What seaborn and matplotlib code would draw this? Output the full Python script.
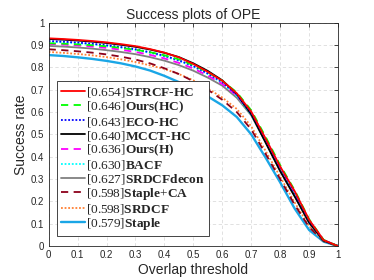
import numpy as np
import pandas as pd
import matplotlib
matplotlib.use("Agg")
import matplotlib.pyplot as plt
import seaborn as sns

# ------------------------------------------
# data
# ------------------------------------------
thresholds = [0.00, 0.05, 0.10, 0.15, 0.20, 0.25, 0.30, 0.35, 0.40, 0.45, 0.50,
              0.55, 0.60, 0.65, 0.70, 0.75, 0.80, 0.85, 0.90, 0.95, 1.00]

trackers = ["STRCF-HC", "Ours(HC)", "ECO-HC", "MCCT-HC", "Ours(H)",
            "BACF", "SRDCFdecon", "Staple+CA", "SRDCF", "Staple"]
auc = ["0.654", "0.646", "0.643", "0.640", "0.636",
       "0.630", "0.627", "0.598", "0.598", "0.579"]

strcf_hc = [0.930, 0.927, 0.923, 0.918, 0.912, 0.904, 0.895, 0.882, 0.866, 0.845, 0.815,
            0.780, 0.740, 0.684, 0.602, 0.480, 0.356, 0.246, 0.118, 0.027, 0.0]
ours_hc = [0.908, 0.906, 0.903, 0.899, 0.894, 0.887, 0.879, 0.868, 0.854, 0.836, 0.810,
           0.778, 0.740, 0.688, 0.608, 0.488, 0.362, 0.250, 0.120, 0.028, 0.0]
eco_hc = [0.918, 0.915, 0.911, 0.906, 0.899, 0.891, 0.881, 0.868, 0.852, 0.832, 0.806,
          0.773, 0.734, 0.678, 0.598, 0.478, 0.352, 0.240, 0.114, 0.027, 0.0]
mcct_hc = [0.927, 0.924, 0.920, 0.915, 0.909, 0.901, 0.892, 0.880, 0.865, 0.846, 0.818,
           0.784, 0.742, 0.680, 0.590, 0.462, 0.335, 0.222, 0.105, 0.024, 0.0]
ours_h = [0.905, 0.902, 0.898, 0.893, 0.887, 0.879, 0.869, 0.856, 0.840, 0.820, 0.795,
          0.763, 0.726, 0.674, 0.596, 0.478, 0.352, 0.240, 0.114, 0.026, 0.0]
bacf = [0.915, 0.912, 0.908, 0.903, 0.896, 0.888, 0.878, 0.865, 0.849, 0.829, 0.803,
        0.770, 0.730, 0.672, 0.588, 0.466, 0.340, 0.228, 0.106, 0.024, 0.0]
srdcfdecon = [0.896, 0.893, 0.889, 0.884, 0.877, 0.869, 0.859, 0.846, 0.830, 0.810, 0.785,
              0.754, 0.718, 0.664, 0.585, 0.466, 0.340, 0.226, 0.104, 0.024, 0.0]
staple_ca = [0.881, 0.877, 0.872, 0.866, 0.858, 0.848, 0.835, 0.818, 0.796, 0.770, 0.738,
             0.700, 0.655, 0.600, 0.522, 0.412, 0.300, 0.185, 0.085, 0.022, 0.0]
srdcf = [0.869, 0.865, 0.860, 0.854, 0.846, 0.836, 0.824, 0.809, 0.793, 0.770, 0.742,
         0.705, 0.665, 0.614, 0.536, 0.425, 0.310, 0.195, 0.090, 0.022, 0.0]
staple = [0.855, 0.851, 0.845, 0.838, 0.829, 0.818, 0.804, 0.786, 0.762, 0.734, 0.704,
          0.670, 0.630, 0.578, 0.500, 0.395, 0.285, 0.168, 0.072, 0.020, 0.0]

series = [strcf_hc, ours_hc, eco_hc, mcct_hc, ours_h,
          bacf, srdcfdecon, staple_ca, srdcf, staple]

# long-form table for seaborn
df = pd.DataFrame({
    "threshold": np.tile(thresholds, len(trackers)),
    "success": np.concatenate(series),
    "tracker": np.repeat(trackers, len(thresholds)),
})

# ------------------------------------------
# styles (MATLAB-ish)
# ------------------------------------------
styles = {
    "STRCF-HC":   dict(color=(1, 0, 0), ls="-", lw=1.3),
    "Ours(HC)":   dict(color=(0, 1, 0), ls=(0, (4, 3)), lw=1.3),
    "ECO-HC":     dict(color=(0, 0, 1), ls=(0, (1, 1)), lw=1.3),
    "MCCT-HC":    dict(color=(0, 0, 0), ls="-", lw=1.3),
    "Ours(H)":    dict(color=(1, 0, 1), ls=(0, (4, 3)), lw=1.3),
    "BACF":       dict(color=(0, 1, 1), ls=(0, (1, 1)), lw=1.3),
    "SRDCFdecon": dict(color=(0.5, 0.5, 0.5), ls="-", lw=1.3),
    "Staple+CA":  dict(color=(0.55, 0.0, 0.1), ls=(0, (4, 3)), lw=1.3),
    "SRDCF":      dict(color=(1, 0.5, 0.2), ls=(0, (1, 1)), lw=1.3),
    "Staple":     dict(color=(0.1, 0.65, 0.9), ls="-", lw=1.7),
}

def legend_label(name, score):
    name = name.replace("-", r"\text{-}").replace("+", r"\text{+}")
    return r"$[" + score + r"]\mathbf{" + name + "}$"

# ==========================================
# plot
# ==========================================
sns.set_style("white")
plt.rcParams["font.family"] = ["Liberation Sans", "DejaVu Sans"]
plt.rcParams["mathtext.fontset"] = "custom"
plt.rcParams["mathtext.rm"] = "Liberation Serif"
plt.rcParams["mathtext.bf"] = "Liberation Serif:bold"

fig = plt.figure(figsize=(3.74, 2.8), dpi=100)
ax = fig.add_axes([0.130, 0.121, 0.774, 0.798])

handles = {}
# draw lowest first so the top trackers sit on top
for name in reversed(trackers):
    st = styles[name]
    sub = df[df["tracker"] == name]
    sns.lineplot(data=sub, x="threshold", y="success", ax=ax,
                 color=st["color"], linestyle=st["ls"], linewidth=st["lw"],
                 legend=False)
    handles[name] = ax.lines[-1]

ax.set_xlim(0, 1)
ax.set_ylim(0, 1)
ticks = np.round(np.arange(0, 1.01, 0.1), 1)
tick_labels = ["0", "0.1", "0.2", "0.3", "0.4", "0.5", "0.6", "0.7", "0.8", "0.9", "1"]
ax.set_xticks(ticks)
ax.set_xticklabels(tick_labels)
ax.set_yticks(ticks)
ax.set_yticklabels(tick_labels)
ax.tick_params(direction="in", length=3, width=0.6, labelsize=7,
               colors="#262626", top=True, right=True, pad=3)
ax.grid(True, ls=(0, (4, 3)), color="#dcdcdc", lw=0.6)
for sp in ax.spines.values():
    sp.set_color("#262626")
    sp.set_linewidth(0.6)

ax.set_title("Success plots of OPE", fontsize=10, pad=3)
ax.set_xlabel("Overlap threshold", fontsize=10, labelpad=2)
ax.set_ylabel("Success rate", fontsize=10, labelpad=2)

leg = ax.legend([handles[n] for n in trackers],
                [legend_label(n, s) for n, s in zip(trackers, auc)],
                loc="lower left", bbox_to_anchor=(0.028, 0.045),
                fontsize=9.6, frameon=True, fancybox=False, framealpha=1,
                handlelength=1.8, handletextpad=0.12, labelspacing=0.0,
                borderpad=0.3, borderaxespad=0)
leg.get_frame().set_edgecolor("#262626")
leg.get_frame().set_linewidth(0.6)

fig.savefig("out.png", dpi=100)
